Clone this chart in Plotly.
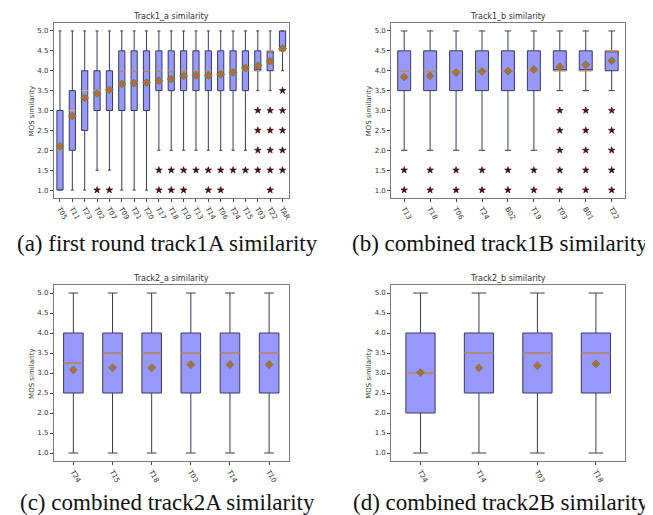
import plotly.graph_objects as go

# ---------------- data ----------------
a_names = ["T05","T11","T23","T02","T07","T09","T21","T20","T17","T18","T10","T13","T14","T06","T24","T15","T03","T22","TAR"]
a_q1  = [1.0,2.0,2.5,3.0,3.0,3.0,3.0,3.0,3.5,3.5,3.5,3.5,3.5,3.5,3.5,3.5,4.0,4.0,4.5]
a_med = [2.0,3.0,3.5,3.5,3.5,4.0,4.0,4.0,4.0,4.0,4.0,4.0,4.0,4.0,4.0,4.0,4.0,4.5,4.5]
a_q3  = [3.0,3.5,4.0,4.0,4.0,4.5,4.5,4.5,4.5,4.5,4.5,4.5,4.5,4.5,4.5,4.5,4.5,4.5,5.0]
a_lo  = [1.0,1.0,1.0,1.5,1.5,1.0,1.0,1.0,2.0,2.0,2.0,2.0,2.0,2.0,2.0,2.0,3.5,3.5,4.0]
a_hi  = [5.0]*19
a_mean = [2.10,2.86,3.32,3.43,3.52,3.67,3.69,3.70,3.75,3.79,3.87,3.88,3.88,3.91,3.96,4.07,4.13,4.24,4.56]
a_out = [[],[],[],[1.0],[1.0],[],[],[],[1.5,1.0],[1.5,1.0],[1.5,1.0],[1.5],[1.5,1.0],[1.5,1.0],[1.5],[1.5],
         [3.0,2.5,2.0,1.5],[3.0,2.5,2.0,1.5,1.0],[3.5,3.0,2.5,2.0,1.5]]

b_names = ["T13","T18","T06","T24","B02","T19","T03","B01","T22"]
b_q1  = [3.5,3.5,3.5,3.5,3.5,3.5,4.0,4.0,4.0]
b_med = [4.0,4.0,4.0,4.0,4.0,4.0,4.0,4.0,4.5]
b_q3  = [4.5]*9
b_lo  = [2.0,2.0,2.0,2.0,2.0,2.0,3.5,3.5,3.5]
b_hi  = [5.0]*9
b_mean = [3.84,3.87,3.95,3.98,3.99,4.03,4.10,4.15,4.25]
b_out = [[1.5,1.0]]*6 + [[3.0,2.5,2.0,1.5,1.0]]*3

c_names = ["T24","T15","T18","T03","T14","T10"]
c_q1  = [2.5]*6
c_med = [3.25,3.5,3.5,3.5,3.5,3.5]
c_q3  = [4.0]*6
c_lo  = [1.0]*6
c_hi  = [5.0]*6
c_mean = [3.08,3.13,3.13,3.21,3.21,3.21]
c_out = [[]]*6

d_names = ["T24","T14","T03","T18"]
d_q1  = [2.0,2.5,2.5,2.5]
d_med = [3.0,3.5,3.5,3.5]
d_q3  = [4.0]*4
d_lo  = [1.0]*4
d_hi  = [5.0]*4
d_mean = [3.01,3.13,3.18,3.23]
d_out = [[]]*4

titles = ["Track1_a similarity", "Track1_b similarity", "Track2_a similarity", "Track2_b similarity"]
captions = ["(a) first round track1A similarity", "(b) combined track1B similarity",
            "(c) combined track2A similarity", "(d) combined track2B similarity"]
y_ticks = [1.0, 1.5, 2.0, 2.5, 3.0, 3.5, 4.0, 4.5, 5.0]

panels = [
    (a_names, a_q1, a_med, a_q3, a_lo, a_hi, a_mean, a_out),
    (b_names, b_q1, b_med, b_q3, b_lo, b_hi, b_mean, b_out),
    (c_names, c_q1, c_med, c_q3, c_lo, c_hi, c_mean, c_out),
    (d_names, d_q1, d_med, d_q3, d_lo, d_hi, d_mean, d_out),
]

# ---------------- layout geometry ----------------
W, H = 653, 515
px_x = [(46, 282), (385, 619.5), (46, 282), (385, 620)]
px_y = [(15, 190), (15, 190), (277, 453), (277, 453)]
ytitle_x = [24, 362.5, 24, 362.5]
caption_xy = [(160, 235), (494, 235), (160, 494), (495, 494)]

FONT = "DejaVu Sans"
BOXW = 0.5

fig = go.Figure()
layout = dict(width=W, height=H, margin=dict(l=0, r=0, t=0, b=0), autosize=False,
              plot_bgcolor="white", paper_bgcolor="white", showlegend=False,
              font=dict(family=FONT, size=7, color="#333333"))
annotations = []

for k, (names, q1, med, q3, lo, hi, mean, outs) in enumerate(panels):
    n = len(names)
    pos = list(range(1, n + 1))
    xa = "x" if k == 0 else f"x{k+1}"
    ya = "y" if k == 0 else f"y{k+1}"
    fig.add_trace(go.Box(x=pos, q1=q1, median=med, q3=q3, lowerfence=lo, upperfence=hi,
                         width=BOXW, whiskerwidth=0.5, boxpoints=False,
                         fillcolor="#9898fa", line=dict(color="#3a3a5c", width=1),
                         xaxis=xa, yaxis=ya, hoverinfo="skip"))
    # median lines
    mx, my = [], []
    for p, m in zip(pos, med):
        mx += [p - BOXW / 2, p + BOXW / 2, None]
        my += [m, m, None]
    fig.add_trace(go.Scatter(x=mx, y=my, mode="lines", line=dict(color="#f2a86a", width=1.2),
                             xaxis=xa, yaxis=ya, hoverinfo="skip"))
    # outliers
    ox, oy = [], []
    for p, o in zip(pos, outs):
        for v in o:
            ox.append(p)
            oy.append(v)
    if ox:
        fig.add_trace(go.Scatter(x=ox, y=oy, mode="markers",
                                 marker=dict(symbol="star", size=5, color="#6a0010",
                                             line=dict(color="#111111", width=0.6)),
                                 xaxis=xa, yaxis=ya, hoverinfo="skip"))
    # means
    fig.add_trace(go.Scatter(x=pos, y=mean, mode="markers",
                             marker=dict(symbol="diamond", size=6, color="#c8603e",
                                         line=dict(color="#3f9a46", width=1)),
                             xaxis=xa, yaxis=ya, hoverinfo="skip"))

    x0, x1 = px_x[k]
    yt, yb = px_y[k]
    xkey = "xaxis" if k == 0 else f"xaxis{k+1}"
    ykey = "yaxis" if k == 0 else f"yaxis{k+1}"
    layout[xkey] = dict(domain=[x0 / W, x1 / W], anchor=ya, range=[0.5, n + 0.5],
                        tickmode="array", tickvals=pos, ticktext=names, tickangle=60,
                        ticks="outside", ticklen=3, tickcolor="#444", showgrid=False,
                        zeroline=False, showline=True, mirror=True, linecolor="#7a7a7a",
                        linewidth=1, tickfont=dict(size=7, family=FONT, color="#333"))
    layout[ykey] = dict(domain=[1 - yb / H, 1 - yt / H], anchor=xa, range=[0.8, 5.2],
                        tickmode="array", tickvals=y_ticks, ticktext=[f"{v:.1f}" for v in y_ticks],
                        ticks="outside", ticklen=3, tickcolor="#444", showgrid=False,
                        zeroline=False, showline=True, mirror=True, linecolor="#7a7a7a",
                        linewidth=1, tickfont=dict(size=7, family=FONT, color="#333"))
    # panel title
    annotations.append(dict(text=titles[k], x=(x0 + x1) / 2 / W, y=1 - (yt - 7) / H,
                            xref="paper", yref="paper", showarrow=False,
                            xanchor="center", yanchor="middle",
                            font=dict(family=FONT, size=8, color="#333")))
    # y-axis title
    annotations.append(dict(text="MOS similarity", x=ytitle_x[k] / W, y=1 - (yt + yb) / 2 / H,
                            xref="paper", yref="paper", showarrow=False, textangle=-90,
                            xanchor="center", yanchor="middle",
                            font=dict(family=FONT, size=7, color="#333")))
    # caption
    cx, cy = caption_xy[k]
    annotations.append(dict(text=captions[k], x=cx / W, y=1 - cy / H,
                            xref="paper", yref="paper", showarrow=False,
                            xanchor="center", yanchor="middle", borderpad=0,
                            font=dict(family="Liberation Serif", size=23, color="#111")))

layout["annotations"] = annotations
fig.update_layout(**layout)
fig.write_html("out.html")
